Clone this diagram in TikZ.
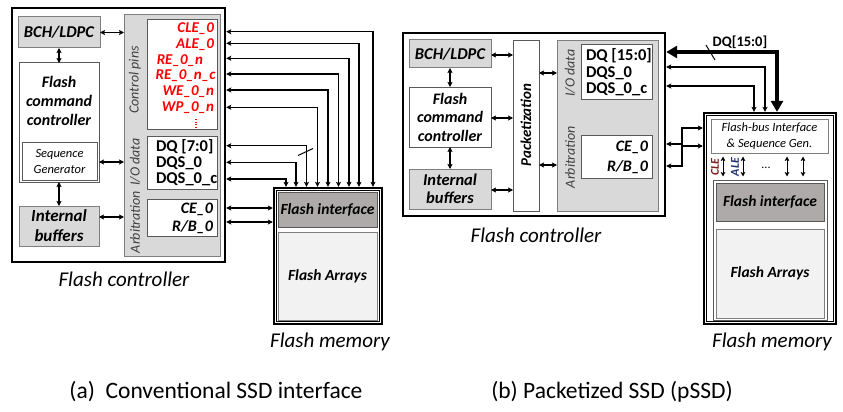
\documentclass[tikz,border=0pt]{standalone}
\usepackage{fontspec}
\setmainfont{Carlito}
\usetikzlibrary{arrows.meta,calc}
\definecolor{boxgray}{HTML}{D9D9D9}
\definecolor{edgegray}{HTML}{7F7F7F}
\definecolor{darkedge}{HTML}{595959}
\definecolor{figray}{HTML}{AEAAAA}
\definecolor{fagray}{HTML}{F2F2F2}
\definecolor{labgray}{HTML}{404040}
\definecolor{sigred}{HTML}{FF0000}
\definecolor{clecol}{HTML}{7A1E1E}
\definecolor{alecol}{HTML}{1F2F6E}
\newcommand\fsz[2]{\fontsize{#1}{#2}\selectfont}
\begin{document}
\begin{tikzpicture}[x=1pt,y=-1pt,
  every node/.style={inner sep=0pt, outer sep=0pt},
  ctrl/.style={draw=black, line width=2.4pt, fill=white, outer sep=1.2pt},
  mem/.style={draw=black, line width=2.2pt, fill=white, outer sep=1.1pt},
  gbox/.style={draw=edgegray, line width=1pt, fill=boxgray, align=center, font=\fsz{16.5}{19}\bfseries\itshape},
  wbox/.style={draw=darkedge, line width=1pt, fill=white, align=center},
  panel/.style={draw=edgegray, line width=1pt, fill=boxgray},
  fibox/.style={draw=darkedge, line width=1pt, fill=figray, font=\fsz{15.5}{16}\bfseries\itshape},
  fabox/.style={draw=edgegray, line width=1pt, fill=fagray, font=\fsz{15.5}{16}\bfseries\itshape},
  panlab/.style={rotate=90, text=labgray, font=\fsz{14}{15}\itshape},
  pinr/.style={anchor=east, text=sigred, font=\fsz{15}{16}\bfseries\itshape},
  sigtxt/.style={anchor=west, font=\fsz{16.5}{16}\bfseries},
  arbtxt/.style={anchor=east, font=\fsz{16}{16}\bfseries\itshape},
  sig/.style={line width=1.3pt, {Stealth[length=5pt,width=5pt,inset=1pt]}-{Stealth[length=5pt,width=5pt,inset=1pt]}},
  bigsig/.style={line width=4pt, {Triangle[length=11pt,width=12pt]}-{Triangle[length=11pt,width=12pt]}},
  ssig/.style={line width=1pt, {Stealth[length=4.5pt,width=4.5pt,inset=1pt]}-{Stealth[length=4.5pt,width=4.5pt,inset=1pt]}},
  captxt/.style={font=\fsz{21}{22}\itshape},
  subcap/.style={font=\fsz{23.5}{25}}
]
\useasboundingbox[fill=white] (0,0) rectangle (843,412);

% ================= (a) =================
\node[ctrl, minimum width=213, minimum height=254] (ctrlA) at (118.5,135) {};
\node[gbox, minimum width=82, minimum height=31] (bchA) at (59,32.5) {BCH/LDPC};
\node[wbox, minimum width=80, minimum height=119] (fccA) at (59,122.5) {};
\node[font=\fsz{16}{19}\bfseries\itshape, align=center] (fccAt) at (59,101) {Flash\\command\\controller};
\node[wbox, minimum width=75, minimum height=38, font=\fsz{12.5}{16}\itshape] (seqA) at (59.5,161) {Sequence\\Generator};
\node[gbox, minimum width=80, minimum height=40, font=\fsz{17}{20}\bfseries\itshape] (ibA) at (59,226) {Internal\\buffers};
\node[panel, minimum width=96, minimum height=241] (panA) at (172,135.5) {};
\node[wbox, minimum width=70, minimum height=109] (cpA) at (182,74.5) {};
\node[wbox, minimum width=70, minimum height=53] (ioA) at (182,162.5) {};
\node[wbox, minimum width=70, minimum height=37] (arA) at (182,217.5) {};
\node[panlab] (lcp) at (135,80) {Control pins};
\node[panlab] (lio) at (135,162) {I/O data};
\node[panlab] (lar) at (135,222) {Arbitration};

\node[pinr] (cle) at (214,29) {CLE\_0};
\node[pinr] (ale) at (214,45) {ALE\_0};
\node[pinr] (ren) at (203,60.5) {RE\_0\_n};
\node[pinr] (renc) at (215.5,76) {RE\_0\_n\_c};
\node[pinr] (wen) at (214,92) {WE\_0\_n};
\node[pinr] (wpn) at (214,107.5) {WP\_0\_n};
\draw[sigred, line width=1.1pt, dash pattern=on 1pt off 1.6pt] (196,119) -- (196,128);

\node[sigtxt] (dqa) at (156,147) {DQ [7:0]};
\node[sigtxt] (dqsa) at (156,163.5) {DQS\_0};
\node[sigtxt] (dqsca) at (156,179.5) {DQS\_0\_c};
\node[arbtxt] (cea) at (213,209) {CE\_0};
\node[arbtxt] (rba) at (213,227.5) {R/B\_0};

\draw[sig] (bchA.east) -- (bchA.east -| panA.west);
\coordinate (sq) at (0,162);
\draw[sig] (sq -| fccA.east) -- (sq -| panA.west);
\coordinate (ibq) at (0,217);
\draw[sig] (ibq -| ibA.east) -- (ibq -| panA.west);
\draw[sig] (bchA.south) -- (bchA.south |- fccA.north);
\draw[sig] (fccA.south) -- (fccA.south |- ibA.north);

% flash memory (a)
\node[mem, minimum width=108, minimum height=136] (memA) at (328,256) {};
\draw[line width=0.7pt] ([shift={(3.3,3.3)}]memA.north west) rectangle ([shift={(-3.3,-3.3)}]memA.south east);
\node[fibox, minimum width=99, minimum height=35] (fiA) at (327.5,209.5) {Flash interface};
\node[fabox, minimum width=99, minimum height=88] (faA) at (327.5,276.5) {Flash Arrays};

\foreach \yy/\xx in {31.7/373, 43.3/359, 58.3/349, 74/338.5, 90/328, 107.3/317.5, 145.7/306.5, 162.3/296, 179/286}{
  \coordinate (t) at (\xx,\yy);
  \draw[sig] (t -| ctrlA.east) -| (t |- memA.north);
}
\draw[line width=1pt] (298,155.5) -- (313,148.5);
\coordinate (cq) at (0,208);
\draw[sig] (cq -| ctrlA.east) -- (cq -| memA.west);
\coordinate (rq) at (0,222);
\draw[sig] (rq -| ctrlA.east) -- (rq -| memA.west);

\node[captxt] (capFCa) at (124,279) {Flash controller};
\node[captxt] (capFMa) at (330,342) {Flash memory};
\node[subcap] (capa) at (216,392) {(a)\ \ Conventional SSD interface};

% ================= (b) =================
\node[ctrl, minimum width=262, minimum height=183] (ctrlB) at (534,124.5) {};
\node[gbox, minimum width=82, minimum height=28] (bchB) at (450,54) {BCH/LDPC};
\node[wbox, minimum width=82, minimum height=60, font=\fsz{16}{18.5}\bfseries\itshape] (fccB) at (450,117) {Flash\\command\\controller};
\node[gbox, minimum width=82, minimum height=40, font=\fsz{16.5}{18.5}\bfseries\itshape] (ibB) at (450,189) {Internal\\buffers};
\node[wbox, minimum width=26, minimum height=170] (pktB) at (526,126) {};
\node[rotate=90, font=\fsz{15}{16}\bfseries\itshape] (pktBt) at (526,125) {Packetization};
\node[panel, minimum width=101, minimum height=170] (panB) at (607.5,126) {};
\node[wbox, minimum width=71, minimum height=54] (ioB) at (616.5,72) {};
\node[wbox, minimum width=71, minimum height=43] (arB) at (616.5,156.5) {};
\node[panlab] (lioB) at (570,73) {I/O data};
\node[panlab] (larB) at (570,157) {Arbitration};

\node[sigtxt] (dqb) at (586,56) {DQ [15:0]};
\node[sigtxt] (dqsb) at (586,73) {DQS\_0};
\node[sigtxt] (dqscb) at (586,89) {DQS\_0\_c};
\node[arbtxt] (ceb) at (648,147) {CE\_0};
\node[arbtxt] (rbb) at (648,167) {R/B\_0};

\draw[sig] (bchB.south) -- (bchB.south |- fccB.north);
\draw[sig] (fccB.south) -- (fccB.south |- ibB.north);
\coordinate (p1) at (0,55);
\draw[sig] (p1 -| bchB.east) -- (p1 -| pktB.west);
\coordinate (p2) at (0,118);
\draw[sig] (p2 -| fccB.east) -- (p2 -| pktB.west);
\coordinate (p3) at (0,190);
\draw[sig] (p3 -| ibB.east) -- (p3 -| pktB.west);
\coordinate (p4) at (0,73);
\draw[sig] (p4 -| pktB.east) -- (p4 -| panB.west);
\coordinate (p5) at (0,165);
\draw[sig] (p5 -| pktB.east) -- (p5 -| panB.west);

% flash memory (b)
\node[mem, minimum width=132, minimum height=211] (memB) at (770,218.5) {};
\draw[line width=0.7pt] ([shift={(3.3,3.3)}]memB.north west) rectangle ([shift={(-3.3,-3.3)}]memB.south east);
\node[wbox, draw=edgegray, minimum width=117, minimum height=34, font=\fsz{12.5}{16}\itshape] (fbB) at (769.5,136) {Flash-bus Interface\\\& Sequence Gen.};
\node[draw=darkedge, line width=0.8pt, minimum width=114, minimum height=140] (inB) at (770,250) {};
\node[fibox, minimum width=108, minimum height=38] (fiB) at (770,202) {Flash interface};
\node[fabox, minimum width=108, minimum height=89] (faB) at (770,273.5) {Flash Arrays};

\foreach \xx in {723,743,787,803}{
  \coordinate (s) at (\xx,0);
  \draw[ssig, shorten <=3.5pt, shorten >=3.5pt] (s |- fbB.south) -- (s |- inB.north);
}
\node[rotate=90, text=clecol, font=\fsz{12}{12}\bfseries\itshape] (cleB) at (715,167) {CLE};
\node[rotate=90, text=alecol, font=\fsz{12}{12}\bfseries\itshape] (aleB) at (735,167) {ALE};
\node[font=\fsz{12}{12}] (dotsB) at (766,168) {...};

\coordinate (q1) at (777,52);
\draw[bigsig] (q1 -| ctrlB.east) -| (q1 |- memB.north);
\draw[line width=1pt] (706,45) -- (715,60);
\node[font=\fsz{14.5}{15}\bfseries] (dqlab) at (740,42) {DQ[15:0]};
\coordinate (q2) at (765,67);
\draw[sig] (q2 -| ctrlB.east) -| (q2 |- memB.north);
\coordinate (q3) at (754,86);
\draw[sig] (q3 -| ctrlB.east) -| (q3 |- memB.north);

\coordinate (c1) at (682,144);
\coordinate (c1u) at (682,128);
\draw[sig] (c1 -| ctrlB.east) -- (c1) -- (c1u) -- (c1u -| memB.west);
\coordinate (c2) at (682,166);
\coordinate (c2u) at (682,146);
\draw[sig] (c2 -| ctrlB.east) -- (c2) -- (c2u) -- (c2u -| memB.west);

\node[captxt] (capFCb) at (536,235) {Flash controller};
\node[captxt] (capFMb) at (772,342) {Flash memory};
\node[subcap] (capb) at (612,392) {(b) Packetized SSD (pSSD)};
\end{tikzpicture}
\end{document}
